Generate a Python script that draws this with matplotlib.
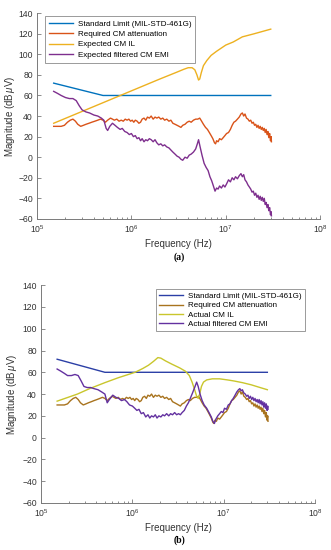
import matplotlib
matplotlib.use("Agg")
import matplotlib.pyplot as plt
from matplotlib.ticker import LogLocator, NullFormatter

plt.rcParams["font.family"] = ["Liberation Sans", "DejaVu Sans"]
plt.rcParams["mathtext.fontset"] = "custom"
plt.rcParams["mathtext.it"] = "Liberation Sans:italic"
plt.rcParams["mathtext.rm"] = "Liberation Sans"

# (frequency in MHz, magnitude in dBuV)
STD_LIMIT = [(0.15, 72), (0.5, 60), (30.0, 60)]

REQ_ATTEN = [
    (0.150, 30), (0.165, 30), (0.180, 30), (0.195, 31), (0.210, 34), (0.225, 36),
    (0.240, 37), (0.255, 35), (0.270, 32), (0.290, 30), (0.310, 31), (0.330, 32),
    (0.355, 33), (0.380, 34), (0.410, 35), (0.440, 36), (0.470, 37), (0.500, 36),
    (0.530, 34), (0.560, 36), (0.600, 38), (0.630, 37), (0.660, 36), (0.700, 37),
    (0.740, 35), (0.780, 36), (0.820, 35), (0.860, 37), (0.900, 36), (0.940, 37),
    (0.980, 35), (1.02, 36), (1.06, 34), (1.10, 36), (1.15, 35), (1.20, 33),
    (1.25, 34), (1.30, 37), (1.36, 38), (1.42, 36), (1.48, 39), (1.55, 38),
    (1.62, 40), (1.70, 37), (1.78, 39), (1.86, 38), (1.95, 39), (2.05, 37),
    (2.15, 38), (2.25, 36), (2.37, 37), (2.50, 35), (2.62, 36), (2.75, 33),
    (2.90, 32), (3.05, 31), (3.20, 30), (3.35, 29), (3.50, 31), (3.70, 32),
    (3.90, 34), (4.10, 35), (4.30, 34), (4.55, 36), (4.80, 37), (5.05, 37),
    (5.30, 38), (5.55, 35), (5.80, 32), (6.10, 29), (6.40, 27), (6.70, 24),
    (7.00, 21), (7.30, 18), (7.60, 14), (7.80, 13), (8.00, 16), (8.30, 15),
    (8.60, 18), (9.00, 17), (9.40, 19), (9.80, 21), (10.2, 23), (10.7, 24),
    (11.2, 27), (11.7, 31), (12.2, 34), (12.7, 35), (13.3, 37), (13.9, 39),
    (14.5, 42), (15.0, 43), (15.5, 40), (16.0, 42), (16.6, 38), (17.2, 37),
    (17.8, 35), (18.4, 36), (19.0, 33), (19.6, 34), (20.2, 31), (20.8, 32),
    (21.4, 29), (22.0, 31), (22.6, 28), (23.2, 30), (23.8, 27), (24.4, 29),
    (25.0, 26), (25.6, 28), (26.2, 24), (26.8, 27), (27.4, 22), (28.0, 25),
    (28.6, 19), (29.2, 23), (29.8, 16), (30.3, 20), (30.5, 15),
]

EXP_IL = [
    (0.15, 33), (0.3, 44.5), (0.6, 56), (1.0, 64.5), (2.0, 76), (3.0, 82.5),
    (3.6, 85.5), (4.0, 87), (4.4, 87), (4.7, 85), (4.95, 80), (5.15, 75),
    (5.3, 76), (5.5, 82), (5.8, 89), (6.3, 94), (7.0, 99), (8.0, 103),
    (10.0, 109), (12.0, 112), (15.0, 117), (20.0, 120), (30.0, 124.5),
]

EXP_EMI = [
    (0.150, 64), (0.165, 62), (0.180, 60), (0.200, 58), (0.220, 57), (0.240, 57),
    (0.260, 55), (0.280, 50), (0.300, 46), (0.330, 44), (0.360, 43), (0.400, 41),
    (0.440, 40), (0.480, 38), (0.510, 36), (0.540, 28), (0.560, 26), (0.590, 30),
    (0.630, 33), (0.670, 31), (0.710, 29), (0.760, 27), (0.800, 28), (0.850, 25),
    (0.900, 24), (0.950, 22), (1.00, 23), (1.05, 20), (1.10, 21), (1.15, 18),
    (1.20, 19), (1.25, 16), (1.30, 18), (1.36, 15), (1.42, 17), (1.48, 16),
    (1.55, 18), (1.62, 17), (1.70, 15), (1.78, 17), (1.86, 14), (1.95, 12),
    (2.05, 13), (2.15, 11), (2.25, 12), (2.37, 10), (2.50, 9), (2.62, 7),
    (2.75, 5), (2.90, 3), (3.05, 1), (3.20, 0), (3.35, -2), (3.50, -3),
    (3.70, 0), (3.90, -1), (4.10, 2), (4.30, 3), (4.55, 5), (4.80, 8),
    (5.00, 13), (5.15, 17), (5.35, 10), (5.60, 2), (5.90, -6), (6.20, -10),
    (6.50, -13), (6.80, -19), (7.10, -23), (7.40, -28), (7.70, -33), (8.00, -30),
    (8.30, -31), (8.60, -28), (9.00, -30), (9.40, -27), (9.80, -29), (10.2, -26),
    (10.7, -22), (11.2, -24), (11.7, -20), (12.2, -22), (12.7, -19), (13.3, -21),
    (13.9, -18), (14.5, -16), (15.0, -19), (15.5, -17), (16.0, -22), (16.6, -24),
    (17.2, -27), (17.8, -29), (18.4, -31), (19.0, -34), (19.6, -33), (20.2, -37),
    (20.8, -35), (21.4, -39), (22.0, -37), (22.6, -41), (23.2, -38), (23.8, -42),
    (24.4, -39), (25.0, -43), (25.6, -40), (26.2, -46), (26.8, -44), (27.4, -49),
    (28.0, -46), (28.6, -52), (29.2, -49), (29.8, -56), (30.3, -53), (30.5, -57),
]

ACT_IL = [
    (0.15, 33.5), (0.25, 40), (0.34, 45), (0.5, 50.5), (0.7, 55), (1.07, 60),
    (1.3, 63.5), (1.5, 66.5), (1.7, 70), (1.9, 73.5), (2.05, 73), (2.3, 70.5),
    (2.7, 67.5), (3.3, 64), (3.8, 61), (4.2, 57), (4.5, 51), (4.8, 44),
    (5.05, 38), (5.25, 36), (5.45, 40), (5.7, 47), (6.0, 51), (6.5, 53),
    (7.5, 54), (9.0, 54), (11.0, 53), (13.0, 52), (16.0, 50.5), (20.0, 48.5),
    (25.0, 46), (30.0, 44),
]

ACT_EMI = [
    (0.150, 63), (0.165, 61), (0.180, 59), (0.195, 57), (0.215, 57), (0.235, 58),
    (0.255, 57), (0.275, 52), (0.295, 47), (0.320, 46), (0.350, 46), (0.380, 45),
    (0.420, 44), (0.460, 42), (0.500, 40), (0.530, 32), (0.560, 35), (0.610, 39),
    (0.660, 37), (0.710, 36), (0.760, 34), (0.820, 35), (0.870, 33), (0.930, 30),
    (1.00, 29), (1.06, 27), (1.12, 25), (1.18, 26), (1.25, 22), (1.32, 23),
    (1.40, 19), (1.48, 21), (1.55, 18), (1.62, 20), (1.70, 19), (1.78, 21),
    (1.86, 18), (1.95, 20), (2.05, 19), (2.15, 21), (2.25, 20), (2.37, 22),
    (2.50, 20), (2.62, 22), (2.75, 21), (2.90, 23), (3.05, 21), (3.20, 22),
    (3.35, 21), (3.50, 23), (3.70, 25), (3.90, 29), (4.10, 32), (4.30, 36),
    (4.55, 41), (4.80, 46), (5.05, 51), (5.25, 47), (5.50, 40), (5.80, 34),
    (6.10, 30), (6.50, 27), (6.90, 23), (7.30, 19), (7.60, 15), (7.90, 13),
    (8.20, 17), (8.60, 20), (9.00, 22), (9.40, 24), (9.80, 23), (10.2, 27),
    (10.7, 26), (11.2, 30), (11.7, 31), (12.2, 34), (12.7, 36), (13.3, 39),
    (13.9, 42), (14.5, 44), (15.0, 45), (15.5, 43), (16.0, 44), (16.6, 41),
    (17.2, 40), (17.8, 38), (18.4, 39), (19.0, 36), (19.6, 38), (20.2, 35),
    (20.8, 37), (21.4, 34), (22.0, 36), (22.6, 33), (23.2, 35), (23.8, 32),
    (24.4, 35), (25.0, 31), (25.6, 34), (26.2, 30), (26.8, 33), (27.4, 28),
    (28.0, 32), (28.6, 27), (29.2, 31), (29.8, 25), (30.3, 29), (30.5, 26),
]

TOP_COLORS = ["#0072BD", "#D95319", "#EDB120", "#7E2F8E"]
BOT_COLORS = ["#2B3FA6", "#A8731E", "#C9C62C", "#6331A0"]

TOP_LABELS = ["Standard Limit (MIL-STD-461G)", "Required CM attenuation",
              "Expected CM IL", "Expected filtered CM EMI"]
BOT_LABELS = ["Standard Limit (MIL-STD-461G)", "Required CM attenuation",
              "Actual CM IL", "Actual filtered CM EMI"]

FS = 6.2


def hz(series):
    f, v = zip(*series)
    return [x * 1e6 for x in f], list(v)


def style_axes(ax, ylab_x):
    ax.set_xscale("log")
    ax.set_xlim(1e5, 1e8)
    ax.set_ylim(-60, 140)
    ax.set_yticks(range(-60, 141, 20))
    ax.xaxis.set_major_locator(LogLocator(base=10, numticks=5))
    ax.xaxis.set_minor_locator(LogLocator(base=10, subs=range(2, 10), numticks=20))
    ax.xaxis.set_minor_formatter(NullFormatter())
    for s in ("top", "right"):
        ax.spines[s].set_visible(False)
    for s in ("left", "bottom"):
        ax.spines[s].set_color("#7a7a7a")
        ax.spines[s].set_linewidth(0.7)
    ax.tick_params(which="both", direction="in", colors="#7a7a7a",
                   labelcolor="#333333", labelsize=FS, width=0.6)
    ax.tick_params(which="major", length=3, pad=3)
    ax.tick_params(which="minor", length=1.8)
    ax.set_xlabel("Frequency (Hz)", fontsize=FS + 0.8, color="#333333", labelpad=3)
    ax.set_ylabel(r"Magnitude (dB$\,\mu$V)", fontsize=FS + 0.8, color="#333333")
    ax.yaxis.set_label_coords(ylab_x, 0.5)


fig = plt.figure(figsize=(3.31, 5.5), dpi=100)
ax1 = fig.add_axes([0.112, 0.602, 0.855, 0.374])
ax2 = fig.add_axes([0.124, 0.0855, 0.828, 0.396])

top_series = [STD_LIMIT, REQ_ATTEN, EXP_IL, EXP_EMI]
for s, c, lab in zip(top_series, TOP_COLORS, TOP_LABELS):
    f, v = hz(s)
    ax1.plot(f, v, color=c, lw=1.0, label=lab)

bot_series = [STD_LIMIT, REQ_ATTEN, ACT_IL, ACT_EMI]
for s, c, lab in zip(bot_series, BOT_COLORS, BOT_LABELS):
    f, v = hz(s)
    ax2.plot(f, v, color=c, lw=1.0, label=lab)

style_axes(ax1, -0.072)
style_axes(ax2, -0.082)

leg1 = ax1.legend(loc="upper left", bbox_to_anchor=(0.028, 0.985), fontsize=FS - 0.4,
                  frameon=True, fancybox=False, framealpha=1, edgecolor="#8a8a8a",
                  handlelength=3.0, handletextpad=0.6, borderpad=0.45,
                  labelspacing=0.35, borderaxespad=0)
leg1.get_frame().set_linewidth(0.6)
leg2 = ax2.legend(loc="upper right", bbox_to_anchor=(0.963, 0.982), fontsize=FS - 0.4,
                  frameon=True, fancybox=False, framealpha=1, edgecolor="#8a8a8a",
                  handlelength=3.0, handletextpad=0.6, borderpad=0.4,
                  labelspacing=0.22, borderaxespad=0)
leg2.get_frame().set_linewidth(0.6)

fig.text(0.543, 0.533, "(a)", ha="center", va="center", fontsize=7,
         fontweight="bold", family="Liberation Serif")
fig.text(0.543, 0.018, "(b)", ha="center", va="center", fontsize=7,
         fontweight="bold", family="Liberation Serif")

fig.savefig("out.png", dpi=100)
